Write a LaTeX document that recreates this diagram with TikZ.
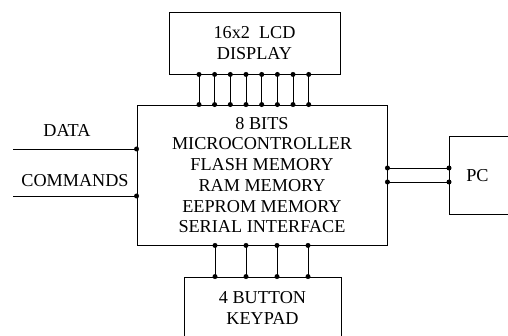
\documentclass[tikz,border=0pt]{standalone}
\usepackage{fontspec}
\setmainfont{Liberation Serif}
\usetikzlibrary{positioning}

\tikzset{
  block/.style={draw, line width=0.9pt, align=center, inner sep=0pt,
    font=\fontsize{18.2}{20.7}\selectfont},
  sigtext/.style={inner sep=0pt, font=\fontsize{18.2}{20.7}\selectfont},
  wire/.style={line width=0.9pt},
}

\begin{document}
\begin{tikzpicture}[x=1pt,y=-1pt]
        \useasboundingbox (0,0) rectangle (508,336);
        \clip (0,0) rectangle (508,336);

        % Microcontroller block
        \node[block, minimum width=250pt, minimum height=140pt] (mcu) at (262,175)
            {8 BITS\\MICROCONTROLLER\\FLASH MEMORY\\RAM MEMORY\\EEPROM MEMORY\\SERIAL INTERFACE};

        % LCD display
        \node[block, minimum width=171pt, minimum height=62pt] (lcd) at (254.5,43)
            {16x2\ \ LCD\\DISPLAY};

        % Keypad
        \node[block, minimum width=157pt, minimum height=62pt] (keys) at (262.5,308)
            {4 BUTTON\\KEYPAD};

        % PC
        \node[block, minimum width=64pt, minimum height=78pt, anchor=north west] (pc) at (449,136)
            {PC\hspace{8pt}};

        % LCD bus (8 lines)
        \foreach \x in {199,214.6,230.3,246,261.7,277.4,293,308.7} {
            \draw[wire] (\x,0 |- lcd.south) -- (\x,0 |- mcu.north);
            \fill (\x,0 |- lcd.south) circle (2.5pt) (\x,0 |- mcu.north) circle (2.5pt);
        }

        % Keypad bus (4 lines)
        \foreach \x in {215,246,277,308} {
            \draw[wire] (\x,0 |- mcu.south) -- (\x,0 |- keys.north);
            \fill (\x,0 |- mcu.south) circle (2.5pt) (\x,0 |- keys.north) circle (2.5pt);
        }

        % Serial link to PC
        \foreach \y in {168,182} {
            \draw[wire] (mcu.east |- 0,\y) -- (pc.west |- 0,\y);
            \fill (mcu.east |- 0,\y) circle (2.5pt) (pc.west |- 0,\y) circle (2.5pt);
        }

        % Inputs
        \coordinate (datain) at (13,149);
        \coordinate (cmdin) at (13,196);
        \draw[wire] (datain) -- (datain -| mcu.west);
        \draw[wire] (cmdin) -- (cmdin -| mcu.west);
        \fill (datain -| mcu.west) circle (2.5pt) (cmdin -| mcu.west) circle (2.5pt);
        \node[sigtext] (data) at (67,130.5) {DATA};
        \node[sigtext] (cmds) at (75,181) {COMMANDS};

    \end{tikzpicture}
\end{document}
